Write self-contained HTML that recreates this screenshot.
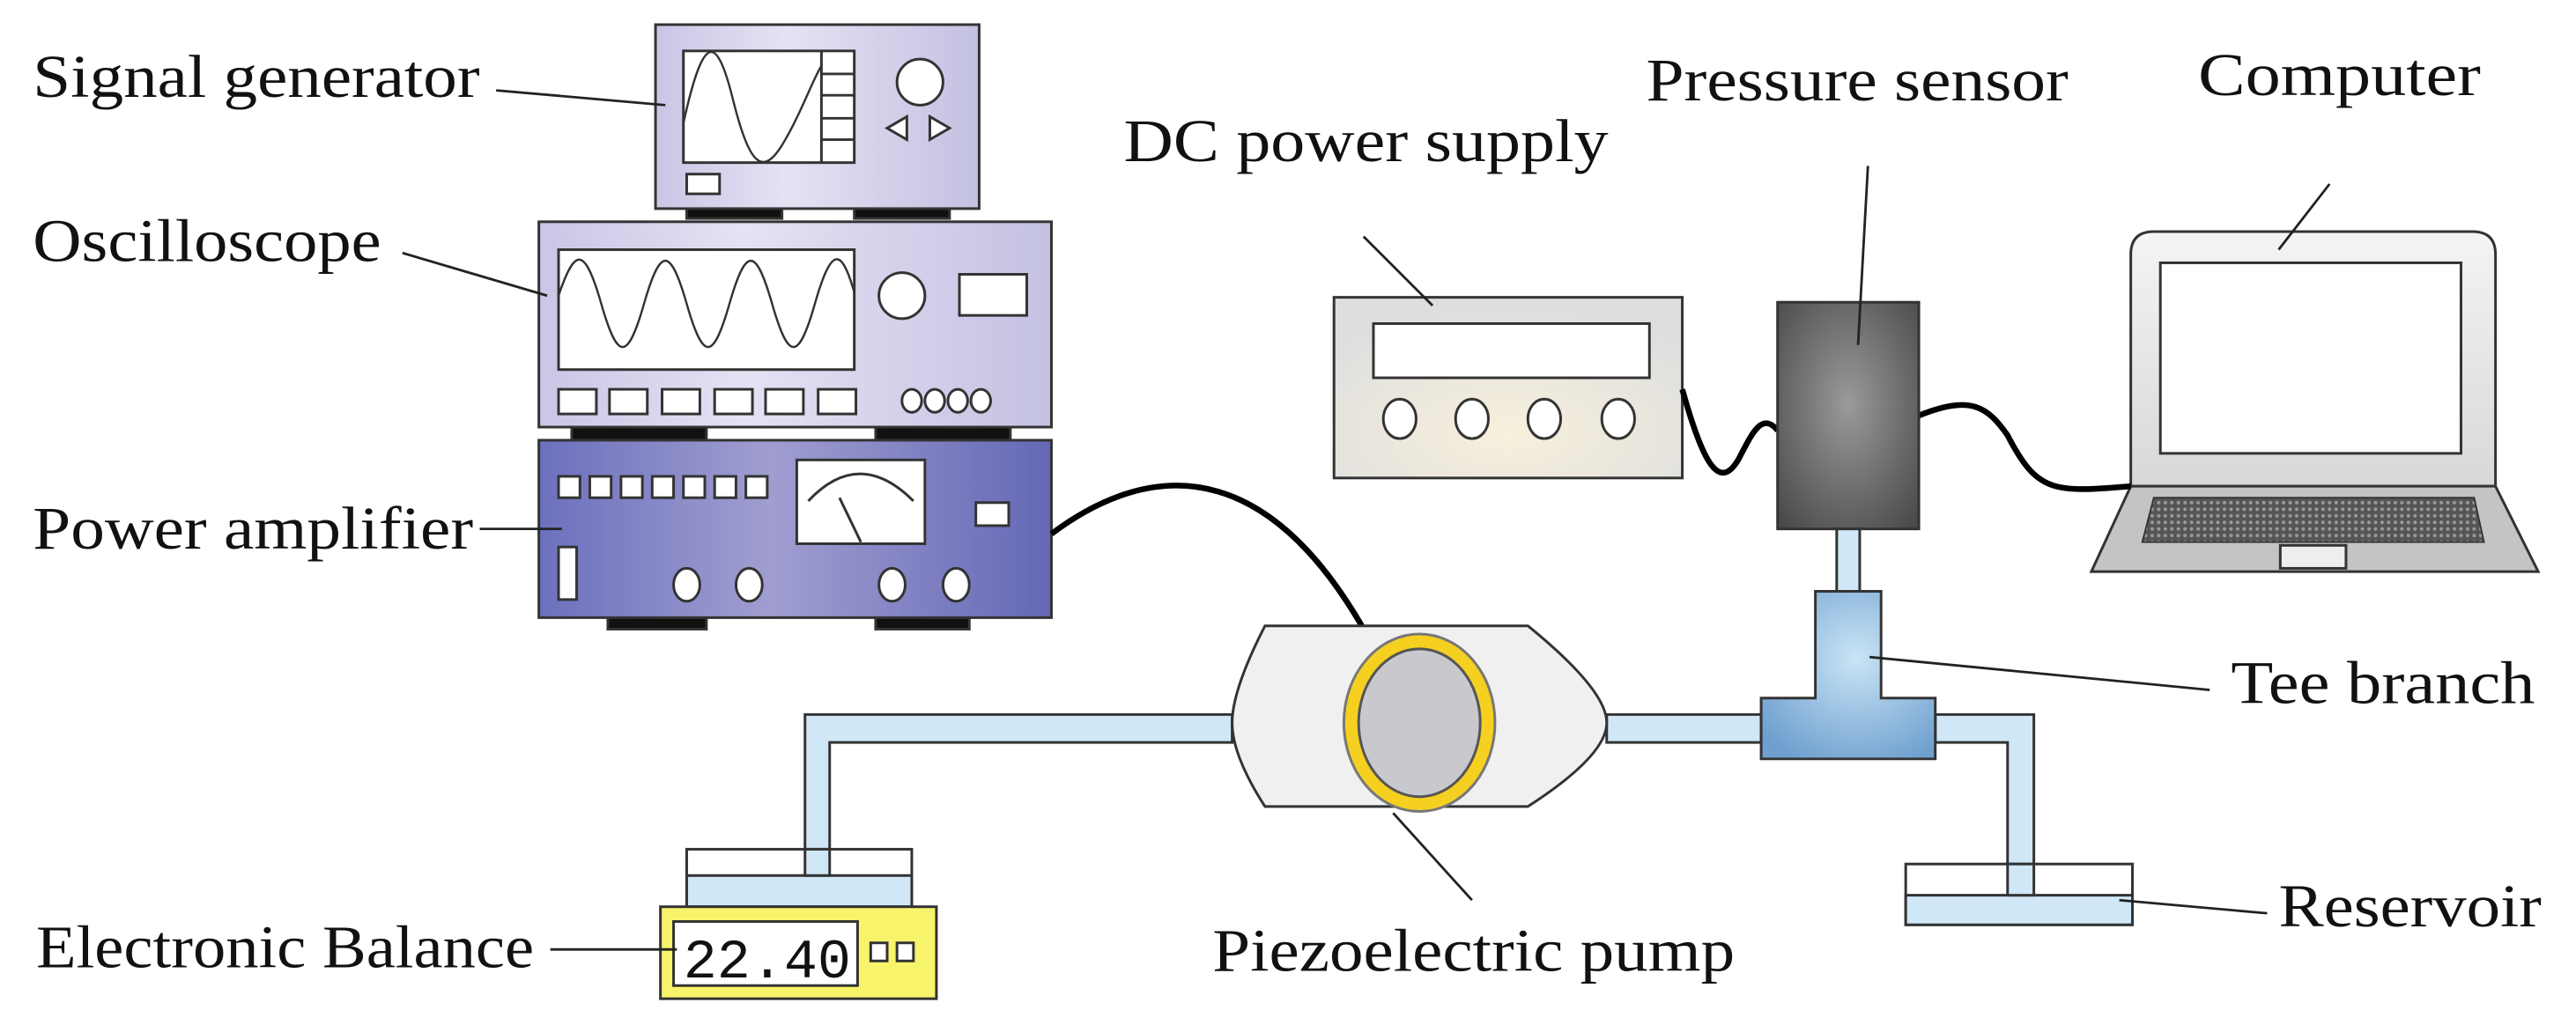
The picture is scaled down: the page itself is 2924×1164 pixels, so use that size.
<!DOCTYPE html>
<html><head><meta charset="utf-8"><style>
html,body{margin:0;padding:0;background:#fff;width:2924px;height:1164px;overflow:hidden}
svg{display:block}
text{font-family:"Liberation Serif",serif;font-size:37px;fill:#111}
</style></head><body>
<svg width="2924" height="1164" viewBox="0 0 1568 624" preserveAspectRatio="none" xmlns="http://www.w3.org/2000/svg">
<defs>
<linearGradient id="lav" x1="0" x2="1"><stop offset="0" stop-color="#c9c6e6"/><stop offset="0.4" stop-color="#e4e2f3"/><stop offset="1" stop-color="#c4c1e2"/></linearGradient>
<linearGradient id="amp" x1="0" x2="1"><stop offset="0" stop-color="#6c70bd"/><stop offset="0.45" stop-color="#a09ed0"/><stop offset="1" stop-color="#6468b6"/></linearGradient>
<radialGradient id="dc" cx="0.5" cy="0.75" r="0.7"><stop offset="0" stop-color="#f7f0dc"/><stop offset="1" stop-color="#dedede"/></radialGradient>
<radialGradient id="ps" cx="0.5" cy="0.45" r="0.7"><stop offset="0" stop-color="#9a9a9a"/><stop offset="1" stop-color="#4a4a4a"/></radialGradient>
<radialGradient id="tee" cx="0.55" cy="0.4" r="0.7"><stop offset="0" stop-color="#c9e4f5"/><stop offset="1" stop-color="#6e9fcf"/></radialGradient>
<linearGradient id="lid" x1="0" x2="0" y1="0" y2="1"><stop offset="0" stop-color="#f4f4f4"/><stop offset="1" stop-color="#d8d8d8"/></linearGradient>
<pattern id="kb" width="4" height="4" patternUnits="userSpaceOnUse"><rect width="4" height="4" fill="#555"/><circle cx="2" cy="2" r="1.1" fill="#999"/></pattern>
</defs>
<g stroke="#333" stroke-width="1.6">
<rect x="418" y="126" width="58" height="7" fill="#111"/><rect x="520" y="126" width="58" height="7" fill="#111"/>
<rect x="399" y="15" width="197" height="112" fill="url(#lav)"/>
<rect x="416" y="31" width="104" height="68" fill="#fff"/>
<line x1="500" y1="31" x2="500" y2="99"/>
<line x1="500" y1="45" x2="520" y2="45"/><line x1="500" y1="58" x2="520" y2="58"/><line x1="500" y1="72" x2="520" y2="72"/><line x1="500" y1="85" x2="520" y2="85"/>
<path d="M416 75 C428 20,436 20,446 60 C456 100,464 110,478 85 C488 68,494 50,500 40" fill="none" stroke-width="1.3"/>
<circle cx="560" cy="50" r="14" fill="#fff"/>
<path d="M552 71 L540 78 L552 85 Z M566 71 L578 78 L566 85Z" fill="#fff"/>
<rect x="418" y="106" width="20" height="12" fill="#fff"/>
<rect x="348" y="258" width="82" height="10" fill="#111"/><rect x="533" y="258" width="82" height="10" fill="#111"/>
<rect x="328" y="135" width="312" height="125" fill="url(#lav)"/>
<rect x="340" y="152" width="180" height="73" fill="#fff"/>
<path d="M340 180 C350 150,356 150,366 185 C376 220,382 220,392 185 C402 150,408 150,418 185 C428 220,434 220,444 185 C454 150,460 150,470 185 C480 220,486 220,496 185 C506 150,512 150,520 178" fill="none" stroke-width="1.3"/>
<circle cx="549" cy="180" r="14" fill="#fff"/>
<rect x="584" y="167" width="41" height="25" fill="#fff"/>
<g fill="#fff"><rect x="340" y="237" width="23" height="15"/><rect x="371" y="237" width="23" height="15"/><rect x="403" y="237" width="23" height="15"/><rect x="435" y="237" width="23" height="15"/><rect x="466" y="237" width="23" height="15"/><rect x="498" y="237" width="23" height="15"/>
<ellipse cx="555" cy="244" rx="6" ry="7"/><ellipse cx="569" cy="244" rx="6" ry="7"/><ellipse cx="583" cy="244" rx="6" ry="7"/><ellipse cx="597" cy="244" rx="6" ry="7"/></g>
<rect x="370" y="374" width="60" height="9" fill="#111"/><rect x="533" y="374" width="57" height="9" fill="#111"/>
<rect x="328" y="268" width="312" height="108" fill="url(#amp)"/>
<g fill="#fff"><rect x="340" y="290" width="13" height="13"/><rect x="359" y="290" width="13" height="13"/><rect x="378" y="290" width="13" height="13"/><rect x="397" y="290" width="13" height="13"/><rect x="416" y="290" width="13" height="13"/><rect x="435" y="290" width="13" height="13"/><rect x="454" y="290" width="13" height="13"/>
<rect x="485" y="280" width="78" height="51"/><rect x="594" y="306" width="20" height="14"/><rect x="340" y="333" width="11" height="32"/>
<ellipse cx="418" cy="356" rx="8" ry="10"/><ellipse cx="456" cy="356" rx="8" ry="10"/><ellipse cx="543" cy="356" rx="8" ry="10"/><ellipse cx="582" cy="356" rx="8" ry="10"/></g>
<path d="M492 305 Q523 272 556 305" fill="none"/><line x1="511" y1="303" x2="524" y2="330"/>
<rect x="812" y="181" width="212" height="110" fill="url(#dc)"/>
<rect x="836" y="197" width="168" height="33" fill="#fff"/>
<g fill="#fff"><ellipse cx="852" cy="255" rx="10" ry="12"/><ellipse cx="896" cy="255" rx="10" ry="12"/><ellipse cx="940" cy="255" rx="10" ry="12"/><ellipse cx="985" cy="255" rx="10" ry="12"/></g>
<path d="M1297 296 V155 Q1297 141 1311 141 H1505 Q1519 141 1519 155 V296 Z" fill="url(#lid)"/>
<rect x="1315" y="160" width="183" height="116" fill="#fff"/>
<path d="M1297 296 H1519 L1545 348 H1273 Z" fill="#c4c4c4"/>
<path d="M1311 303 H1506 L1512 330 H1304 Z" fill="url(#kb)" stroke-width="1"/>
<rect x="1388" y="332" width="40" height="14" fill="#eee"/>
</g>
<g fill="none" stroke="#000" stroke-width="3.5">
<path d="M640 325 C700 280,780 270,848 418"/>
<path d="M1024 237 C1036 280,1046 300,1058 280 C1066 265,1072 250,1082 262"/>
<path d="M1168 253 C1200 240,1210 248,1222 265 C1240 300,1250 300,1297 296"/>
</g>
<g stroke="#333" stroke-width="1.6">
<rect x="1082" y="184" width="86" height="138" fill="url(#ps)"/>
<rect x="1118" y="322" width="14" height="40" fill="#cfe7f6"/>
<path d="M750 435 H490 V545 H505 V452 H750 Z" fill="#cfe7f6"/>
<path d="M978 435 H1072 V452 H978 Z" fill="#cfe7f6"/>
<path d="M1178 435 H1238 V545 H1222 V452 H1178 Z" fill="#cfe7f6"/>
<path d="M1105 360 H1145 V425 H1178 V462 H1072 V425 H1105 Z" fill="url(#tee)"/>
<path d="M770 381 H930 Q978 420 978 440 Q978 460 930 491 H770 Q750 460 750 440 Q750 420 770 381 Z" fill="#f0f0f0"/>
<ellipse cx="864" cy="440" rx="46" ry="54" fill="#f5d020" stroke="#777"/>
<ellipse cx="864" cy="440" rx="37" ry="45" fill="#c9c9cd" stroke="#555"/>
<rect x="418" y="517" width="137" height="35" fill="#fff"/>
<rect x="418" y="533" width="137" height="19" fill="#cfe7f6"/>
<rect x="490" y="517" width="15" height="16" fill="#cfe7f6"/>
<rect x="402" y="552" width="168" height="56" fill="#f7f36a"/>
<rect x="410" y="561" width="112" height="39" fill="#fff"/>
<rect x="530" y="574" width="10" height="11" fill="#fff"/><rect x="546" y="574" width="10" height="11" fill="#fff"/>
<rect x="1160" y="526" width="138" height="37" fill="#fff"/>
<rect x="1160" y="545" width="138" height="18" fill="#cfe7f6"/>
<rect x="1222" y="526" width="16" height="19" fill="#cfe7f6"/>
</g>
<text x="416" y="595" style="font-family:'Liberation Mono',monospace;font-size:34px" textLength="102" lengthAdjust="spacingAndGlyphs">22.40</text>
<g stroke="#222" stroke-width="1.5" fill="none">
<line x1="302" y1="55" x2="405" y2="64"/>
<line x1="245" y1="154" x2="333" y2="180"/>
<line x1="292" y1="322" x2="342" y2="322"/>
<line x1="830" y1="144" x2="872" y2="186"/>
<line x1="1137" y1="101" x2="1131" y2="210"/>
<line x1="1418" y1="112" x2="1387" y2="152"/>
<line x1="1138" y1="400" x2="1345" y2="420"/>
<line x1="1290" y1="548" x2="1380" y2="556"/>
<line x1="848" y1="495" x2="896" y2="548"/>
<line x1="335" y1="578" x2="412" y2="578"/>
</g>
<text x="20" y="59" textLength="272" lengthAdjust="spacingAndGlyphs">Signal generator</text>
<text x="20" y="159" textLength="212" lengthAdjust="spacingAndGlyphs">Oscilloscope</text>
<text x="20" y="334" textLength="268" lengthAdjust="spacingAndGlyphs">Power amplifier</text>
<text x="684" y="98" textLength="295" lengthAdjust="spacingAndGlyphs">DC power supply</text>
<text x="1002" y="61" textLength="257" lengthAdjust="spacingAndGlyphs">Pressure sensor</text>
<text x="1338" y="58" textLength="172" lengthAdjust="spacingAndGlyphs">Computer</text>
<text x="1358" y="428" textLength="185" lengthAdjust="spacingAndGlyphs">Tee branch</text>
<text x="1387" y="564" textLength="160" lengthAdjust="spacingAndGlyphs">Reservoir</text>
<text x="738" y="591" textLength="318" lengthAdjust="spacingAndGlyphs">Piezoelectric pump</text>
<text x="22" y="589" textLength="303" lengthAdjust="spacingAndGlyphs">Electronic Balance</text>
</svg>
</body></html>
